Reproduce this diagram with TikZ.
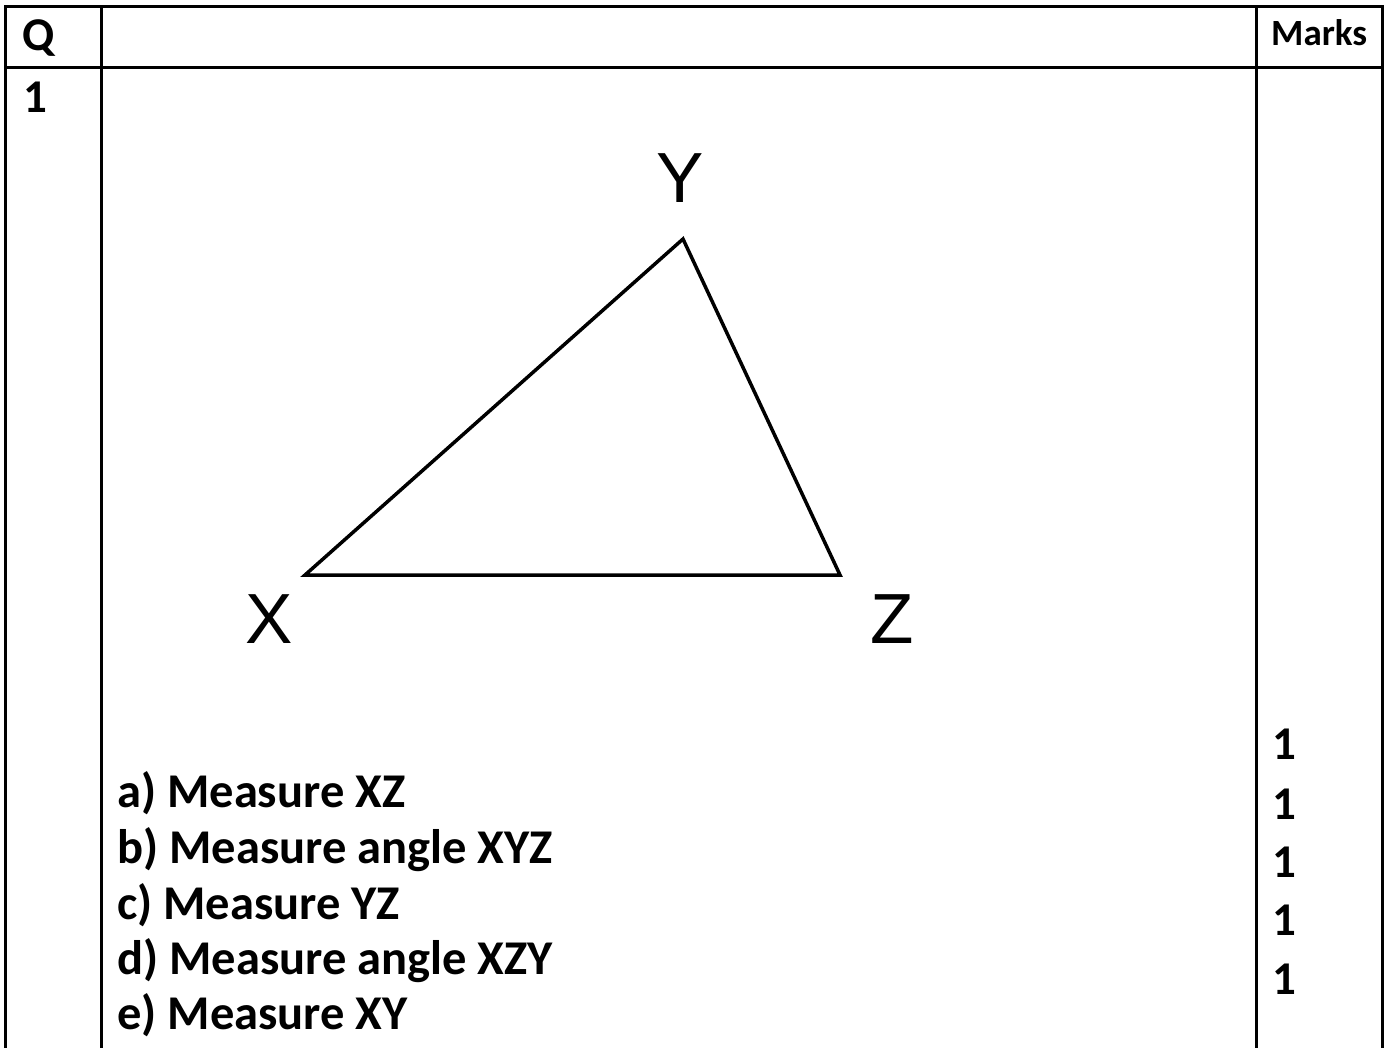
\documentclass[tikz,border=0pt]{standalone}
\usepackage{fontspec}
\setmainfont{Carlito}
\newfontfamily\vertexfont{Liberation Sans}
\usetikzlibrary{positioning}

\begin{document}
\begin{tikzpicture}[
    x=1pt,y=-1pt,
    rule/.style={line width=3pt},
    edge/.style={line width=3.5pt,line join=miter},
    head/.style={font=\fontsize{47}{55}\selectfont\bfseries,anchor=base west,inner sep=0pt},
    markshead/.style={font=\fontsize{37}{44}\selectfont\bfseries,anchor=base west,inner sep=0pt},
    task/.style={font=\fontsize{48.5}{58}\selectfont\bfseries,anchor=base west,inner sep=0pt},
    markval/.style={font=\fontsize{47}{56}\selectfont\bfseries,anchor=base west,inner sep=0pt},
    vertex/.style={font=\fontsize{71}{80}\selectfont\vertexfont,anchor=base,inner sep=0pt}
  ]
    \useasboundingbox (0,0) rectangle (1388,1048);

    % table
    \draw[rule] (5,1048) -- (5,7) -- (1382,7) -- (1382,1048);
    \draw[rule] (5,68) -- (1382,68);
    \draw[rule] (101,7) -- (101,1048);
    \draw[rule] (1256,7) -- (1256,1048);

    \node[head] (qhead) at (22,51) {Q};
    \node[markshead] (marks) at (1271,46) {Marks};
    \node[head] (qnum) at (23,113) {1};

    % triangle
    \coordinate (X) at (305,575);
    \coordinate (Y) at (683,239);
    \coordinate (Z) at (840,575);
    \draw[edge] (X) -- (Y) -- (Z) -- cycle;
    \node[vertex] (labelY) at (680,203) {Y};
    \node[vertex] (labelX) at (269,643) {X};
    \node[vertex] (labelZ) at (892,643) {Z};

    % questions
    \node[task] (qa) at (117,807) {a) Measure XZ};
    \node[task] (qb) at (117,863) {b) Measure angle XYZ};
    \node[task] (qc) at (117,919) {c) Measure YZ};
    \node[task] (qd) at (117,974) {d) Measure angle XZY};
    \node[task] (qe) at (117,1029) {e) Measure XY};

    % marks
    \foreach \y [count=\i] in {759,819,877,935,994}
      \node[markval] (m\i) at (1272,\y) {1};
  \end{tikzpicture}
\end{document}
